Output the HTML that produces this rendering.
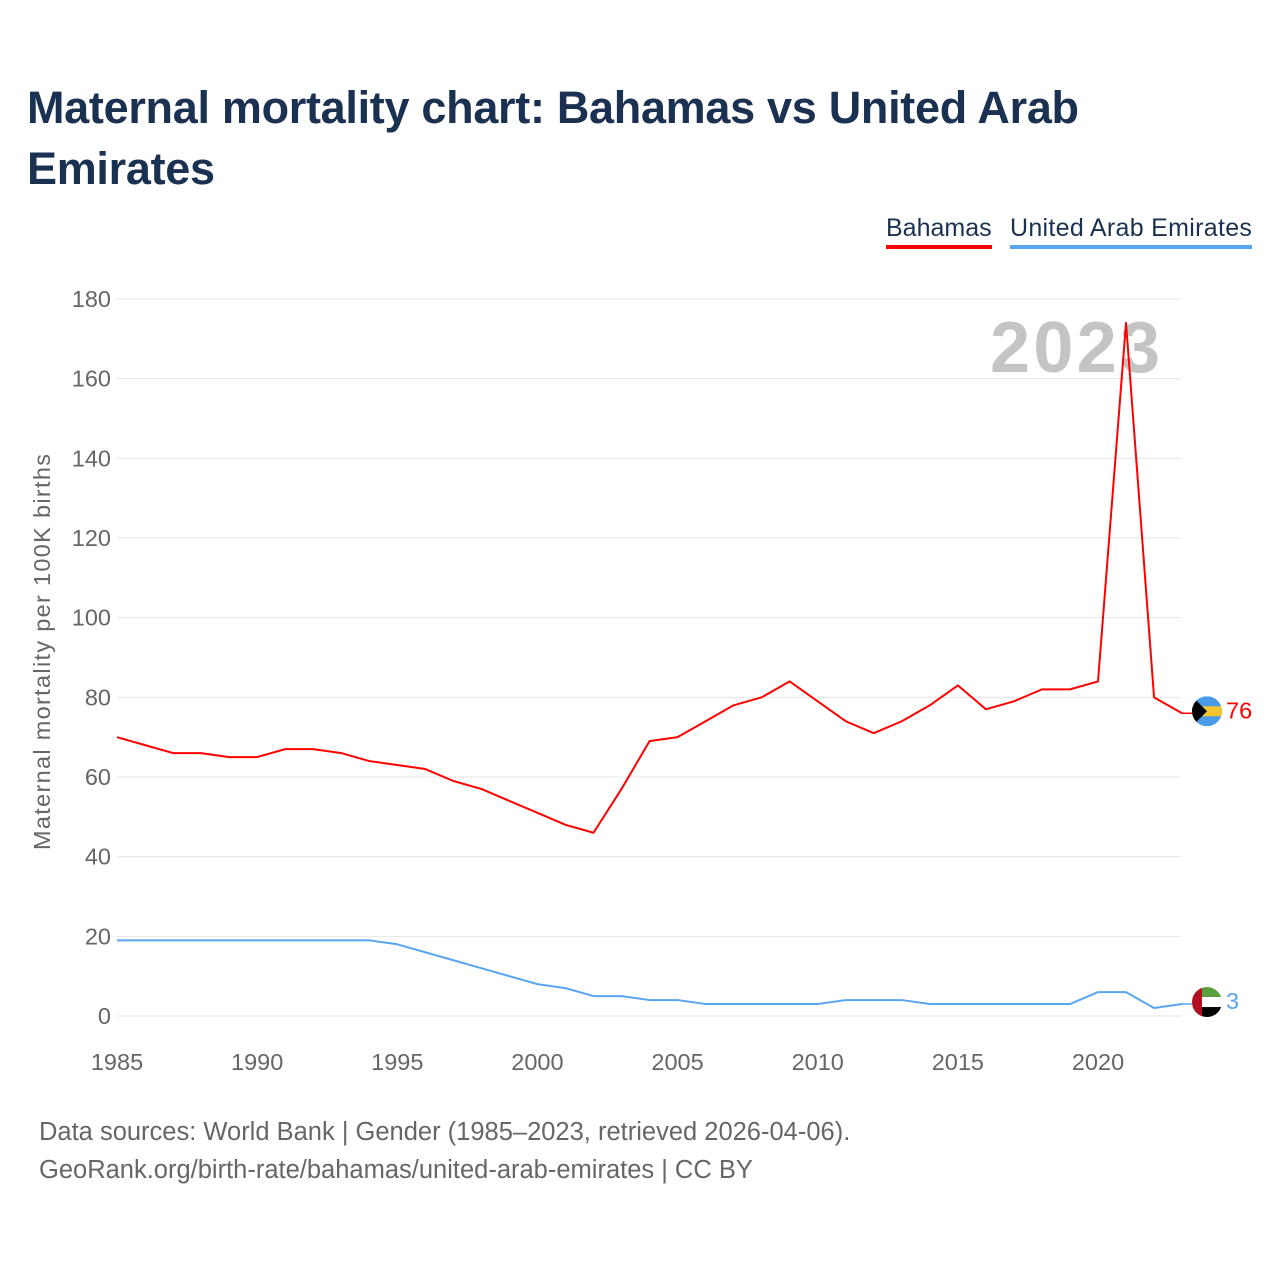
<!DOCTYPE html>
<html><head><meta charset="utf-8"><style>
body{margin:0;background:#fff;font-family:"Liberation Sans",sans-serif;}
#wrap{position:relative;width:1280px;height:1280px;overflow:hidden;}
h1{position:absolute;left:27px;top:77px;margin:0;font-size:45px;line-height:61px;color:#1b3152;font-weight:bold;width:1200px;letter-spacing:-0.3px}
.leg{position:absolute;top:214px;font-size:25px;color:#1b3152;padding-bottom:2px}
.foot{position:absolute;left:39px;font-size:25.5px;color:#666}
</style></head><body>
<div id="wrap">
<h1>Maternal mortality chart: Bahamas vs United Arab Emirates</h1>
<div class="leg" style="left:886px;border-bottom:4px solid #f00">Bahamas</div>
<div class="leg" style="left:1010px;border-bottom:4px solid #5aa5f0;letter-spacing:0.3px">United Arab Emirates</div>
<svg id="chart" width="1280" height="1280" style="position:absolute;left:0;top:0"></svg>
<div class="foot" style="top:1118px">Data sources: World Bank | Gender (1985–2023, retrieved 2026-04-06).</div>
<div class="foot" style="top:1156px">GeoRank.org/birth-rate/bahamas/united-arab-emirates | CC BY</div>
</div>
<script>
const years=[1985,1986,1987,1988,1989,1990,1991,1992,1993,1994,1995,1996,1997,1998,1999,2000,2001,2002,2003,2004,2005,2006,2007,2008,2009,2010,2011,2012,2013,2014,2015,2016,2017,2018,2019,2020,2021,2022,2023];
const bahamas=[70,68,66,66,65,65,67,67,66,64,63,62,59,57,54,51,48,46,57,69,70,74,78,80,84,79,74,71,74,78,83,77,79,82,82,84,174,80,76];
const uae=[19,19,19,19,19,19,19,19,19,19,18,16,14,12,10,8,7,5,5,4,4,3,3,3,3,3,4,4,4,3,3,3,3,3,3,6,6,2,3];
const yTicks=[0,20,40,60,80,100,120,140,160,180];
const xTicks=[1985,1990,1995,2000,2005,2010,2015,2020];
const NS="http://www.w3.org/2000/svg";
const svg=document.getElementById('chart');
const x=v=>117+(v-1985)*(1098-117)/35;
const y=v=>1016-v*(1016-299)/180;
function mk(t,a,p){const e=document.createElementNS(NS,t);for(const k in a)e.setAttribute(k,a[k]);(p||svg).appendChild(e);return e;}
yTicks.forEach(t=>{
 const l=mk('line',{x1:117,x2:1181,y1:y(t),y2:y(t),stroke:'#e6e6e6','stroke-width':1});
 
 
 const tx=mk('text',{x:111,y:y(t)+8,'text-anchor':'end','font-size':23.5,fill:'#666'});tx.textContent=t;
 
 
});
xTicks.forEach(t=>{
 const tx=mk('text',{x:x(t),y:1070,'text-anchor':'middle','font-size':23.5,fill:'#666'});tx.textContent=t;
 
 
});
const yt=mk('text',{transform:'translate(50,652) rotate(-90)','text-anchor':'middle','font-size':23.5,fill:'#666',textLength:396});
yt.textContent='Maternal mortality per 100K births';


const yr=mk('text',{x:1160,y:372,'text-anchor':'end','font-size':72,'font-weight':'bold',fill:'#c4c4c4',textLength:170});
yr.textContent='2023';


function series(vals,color,name){
 const p=mk('polyline',{points:vals.map((v,i)=>x(years[i])+','+y(v)).join(' '),fill:'none',stroke:color,'stroke-width':2,'stroke-linejoin':'round'});
 
 
 const last=vals[vals.length-1];
 const ly=y(last);
 mk('line',{x1:x(2023),x2:1192,y1:ly,y2:ly,stroke:color,'stroke-width':1.5});
 const t=mk('text',{x:1226,y:ly+5,'font-size':23.5,fill:color});t.textContent=last;
 
 
 return ly;
}
const by=series(bahamas,'#ff0000','bahamas');
const uy=series(uae,'#5aa5f0','uae');
const d=mk('defs',{});
mk('clipPath',{id:'c1'},d);mk('circle',{cx:1207,cy:by-2,r:15},d.lastChild);
mk('clipPath',{id:'c2'},d);mk('circle',{cx:1207,cy:uy-2,r:15},d.lastChild);
const f1=mk('g',{'clip-path':'url(#c1)'});


const b=by-2,u=uy-2;
mk('rect',{x:1192,y:b-15,width:30,height:30,fill:'#4a9be8'},f1);
mk('rect',{x:1192,y:b-5,width:30,height:10,fill:'#f4c430'},f1);
mk('polygon',{points:`1192,${b-15} 1207,${b} 1192,${b+15}`,fill:'#000'},f1);
const f2=mk('g',{'clip-path':'url(#c2)'});


mk('rect',{x:1192,y:u-15,width:30,height:10,fill:'#5aa040'},f2);
mk('rect',{x:1192,y:u-5,width:30,height:10,fill:'#fff'},f2);
mk('rect',{x:1192,y:u+5,width:30,height:10,fill:'#000'},f2);
mk('rect',{x:1192,y:u-15,width:10,height:30,fill:'#b01020'},f2);
</script>
</body></html>
